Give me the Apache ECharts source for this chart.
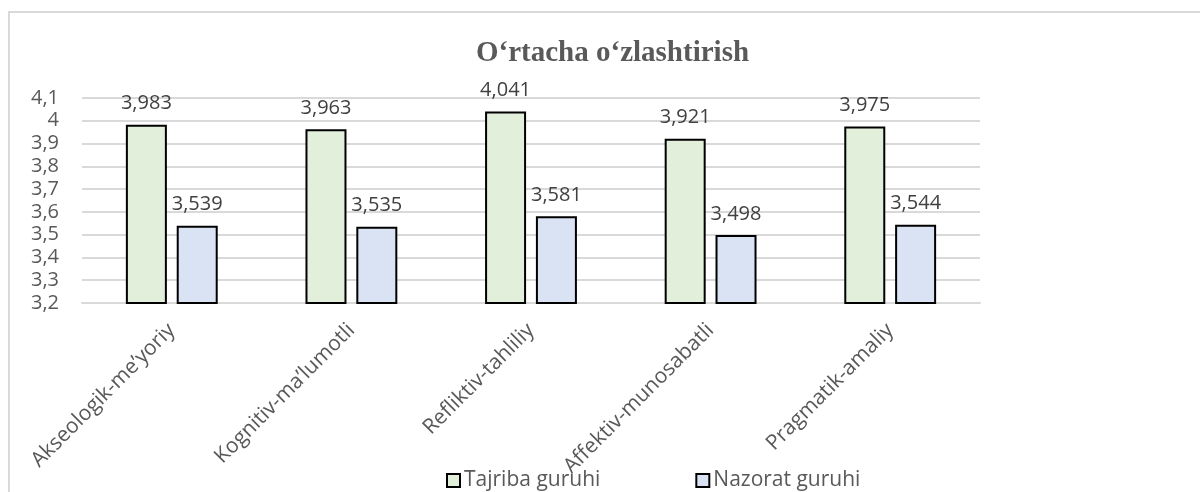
<!DOCTYPE html>
<html>
<head>
<meta charset="utf-8">
<title>O‘rtacha o‘zlashtirish</title>
<script src="https://cdn.jsdelivr.net/npm/echarts@6/dist/echarts.min.js"></script>
<style>
  html, body { margin: 0; padding: 0; background: #fff; }
  #chart { width: 1200px; height: 492px; }
</style>
</head>
<body>
<div id="chart"></div>
<script>
// data
const categories = ['Akseologik-me’yoriy', 'Kognitiv-ma’lumotli', 'Refliktiv-tahliliy', 'Affektiv-munosabatli', 'Pragmatik-amaliy']
const tajriba = [3.983, 3.963, 4.041, 3.921, 3.975]
const nazorat = [3.539, 3.535, 3.581, 3.498, 3.544]
const seriesNames = ['Tajriba guruhi', 'Nazorat guruhi']

const chart = echarts.init(document.getElementById('chart'))

// 3,983 style labels
const comma3 = v => v.toFixed(3).replace('.', ',')
const commaTick = v => String(Math.round(v * 10) / 10).replace('.', ',')

const font = '"Open Sans", "Noto Sans", sans-serif'

const barSeries = (name, data, color) => ({
  name: name,
  type: 'bar',
  data: data,
  barWidth: 41,
  barGap: '24%',
  itemStyle: {
    color: color,
    borderColor: '#000',
    borderWidth: 2
  },
  label: {
    show: true,
    position: 'top',
    distance: 11,
    color: '#404040',
    fontFamily: font,
    fontSize: 20,
    formatter: p => comma3(p.value)
  }
})

const option = {
  animation: false,
  backgroundColor: '#fff',
  graphic: [{
    type: 'rect',
    shape: { x: 9, y: 12, width: 1300, height: 600 },
    style: { fill: 'none', stroke: '#d9d9d9', lineWidth: 2 },
    silent: true
  }],
  title: {
    text: 'O‘rtacha o‘zlashtirish',
    left: 471,
    top: 34,
    textStyle: {
      fontFamily: '"Liberation Serif", "Times New Roman", serif',
      fontWeight: 'bold',
      fontSize: 29,
      color: '#595959'
    }
  },
  legend: {
    data: seriesNames,
    left: 441,
    top: 465,
    icon: 'rect',
    itemWidth: 13,
    itemHeight: 13,
    itemGap: 95,
    itemStyle: { borderColor: '#000', borderWidth: 2 },
    textStyle: { fontFamily: font, fontSize: 21, color: '#595959', padding: [0, 0, 0, -1] }
  },
  grid: {
    left: 82,
    right: 220,
    top: 98,
    bottom: 189
  },
  xAxis: {
    type: 'category',
    data: categories,
    axisLine: { lineStyle: { color: '#d9d9d9', width: 2 } },
    axisTick: { show: false },
    axisLabel: {
      rotate: 45,
      margin: 24,
      interval: 0,
      fontFamily: font,
      fontSize: 21,
      color: '#595959'
    }
  },
  yAxis: {
    type: 'value',
    min: 3.2,
    max: 4.1,
    interval: 0.1,
    axisLine: { show: false },
    axisTick: { show: false },
    splitLine: { lineStyle: { color: '#d9d9d9', width: 2 } },
    axisLabel: {
      margin: 23,
      fontFamily: font,
      fontSize: 20,
      color: '#595959',
      formatter: commaTick
    }
  },
  series: [
    barSeries(seriesNames[0], tajriba, '#e2efda'),
    barSeries(seriesNames[1], nazorat, '#dae3f3')
  ]
}

chart.setOption(option)
</script>
</body>
</html>
